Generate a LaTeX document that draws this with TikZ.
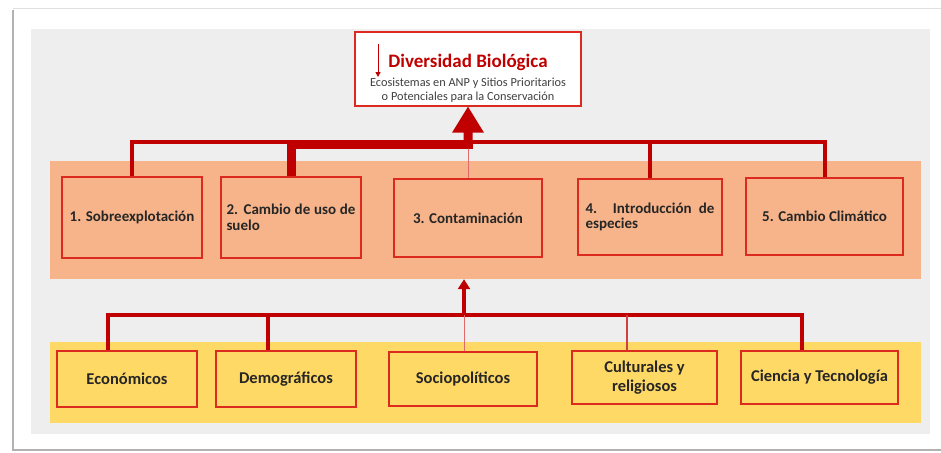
\documentclass[tikz,border=0pt]{standalone}
\usepackage{fontspec}
\setmainfont{Carlito}
\usetikzlibrary{arrows.meta,calc}
\definecolor{conred}{HTML}{C00000}
\definecolor{boxred}{HTML}{DC2A1E}
\definecolor{thinred}{HTML}{E06A6A}
\definecolor{bandor}{HTML}{F7B48A}
\definecolor{bandye}{HTML}{FFD966}
\definecolor{panel}{HTML}{EEEEEE}
\definecolor{subgray}{HTML}{404040}
\newcommand\nohyphens{\hyphenpenalty=10000\exhyphenpenalty=10000\relax}
\begin{document}
\begin{tikzpicture}[x=1pt,y=-1pt,
  band/.style={inner sep=0pt, draw=none},
  box/.style={draw=boxred, line width=1.8pt, inner sep=0pt, text=black!85,
    align=center, font=\bfseries\fontsize{15}{15.5}\selectfont\nohyphens},
  ybox/.style={box, font=\bfseries\fontsize{16.5}{19}\selectfont},
  jbox/.style={box, text width=129pt, align=justify},
  link/.style={draw=conred, line width=#1},
  faint/.style={draw=thinred, line width=0.8pt}
]
\useasboundingbox (0,0) rectangle (941,452);

% sheet with its shadowed edges
\draw[black!12, line width=1pt] (13,9) -- (941,9);
\draw[black!30, line width=2pt] (13,10) -- (13,450) -- (941,450);

% grey panel and the two coloured bands
\fill[panel] (31,29) rectangle (930,434);
\node[band, fill=bandor, minimum width=871pt, minimum height=118pt] (threats) at (485.5,220) {};
\node[band, fill=bandye, minimum width=871pt, minimum height=81pt] (drivers) at (485.5,382.5) {};

% goal box
\node[draw=boxred, line width=1.4pt, fill=white, minimum width=226pt, minimum height=74pt] (top) at (468,69) {};
\node[text=conred, font=\bfseries\fontsize{19}{21}\selectfont] (title) at (468,62) {Diversidad Biológica};
\node[text=subgray, align=center, font=\fontsize{12.3}{14}\selectfont] (subtitle) at (468,90)
  {Ecosistemas en ANP y Sitios Prioritarios\\o Potenciales para la Conservación};
\coordinate (da) at (378,44);
\coordinate (db) at (378,77);
\draw[conred, line width=1pt, -{Triangle[length=5pt,width=5pt]}] (da) -- (db);

% direct threats
\node[box, minimum width=140pt, minimum height=81pt] (b1) at (132,217.5) {1. Sobreexplotación};
\node[jbox, minimum width=140pt, minimum height=81pt] (b2) at (291,217.5) {2. Cambio de uso de suelo};
\node[box, minimum width=148pt, minimum height=78pt] (b3) at (468,218) {3. Contaminación};
\node[jbox, minimum width=144pt, minimum height=76pt] (b4) at (650,217) {4. Introducción de especies};
\node[box, minimum width=157pt, minimum height=77pt] (b5) at (824.5,216.5) {5. Cambio Climático};

% underlying drivers
\node[ybox, minimum width=140pt, minimum height=56pt] (y1) at (127,379) {Económicos};
\node[ybox, minimum width=140pt, minimum height=56pt] (y2) at (286,379) {Demográficos};
\node[ybox, minimum width=148pt, minimum height=54pt] (y3) at (463,379) {Sociopolíticos};
\node[ybox, minimum width=145pt, minimum height=53pt] (y4) at (644.5,377.5) {Culturales y\\religiosos};
\node[ybox, minimum width=157pt, minimum height=53pt] (y5) at (819.5,377.5) {Ciencia y Tecnología};

% upper connectors
\coordinate (topbus) at (0,142);
\coordinate (hub) at (468,144);
\draw[link=4pt] (b1.north) -- (b1.north |- topbus) -| (b5.north);
\draw[link=3.5pt] (b4.north) -- (b4.north |- topbus);
\draw[link=9pt] (b2.north) |- ([xshift=4.5pt]hub);
\draw[faint] (b3.north) -- ([yshift=4pt]hub);
\fill[conred] ($(top.south)+(-4.5,42)$) -- ($(top.south)+(-4.5,26)$)
  -- ($(top.south)+(-16,26)$) -- (top.south) -- ($(top.south)+(16,26)$)
  -- ($(top.south)+(4.5,26)$) -- ($(top.south)+(4.5,42)$) -- cycle;

% lower connectors
\coordinate (j1) at (108,315);
\coordinate (j2) at (268,315);
\coordinate (j3) at (464,315);
\coordinate (j4) at (627,315);
\coordinate (j5) at (802,315);
\draw[link=3.5pt] (y1.north -| j1) -- (j1) -- (j5) -- (y5.north -| j5);
\draw[link=4pt] (y2.north -| j2) -- (j2);
\draw[faint] (y3.north -| j3) -- (j3);
\draw[draw=conred!75, line width=1.5pt] (y4.north -| j4) -- (j4);
\draw[link=4pt, -{Triangle[length=10pt,width=12pt]}] (j3) -- (j3 |- threats.south);
\end{tikzpicture}
\end{document}
